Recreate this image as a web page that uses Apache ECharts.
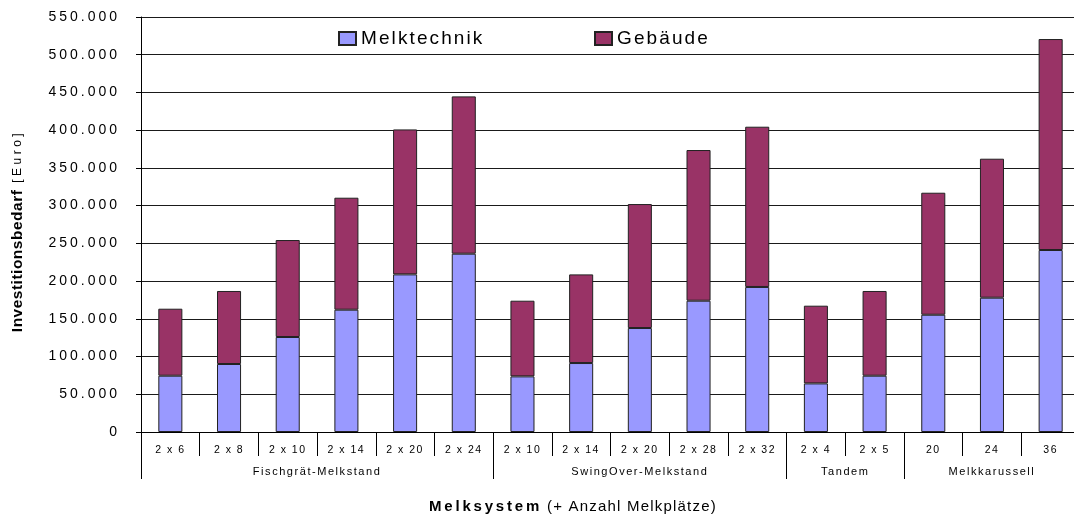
<!DOCTYPE html>
<html>
<head>
<meta charset="utf-8">
<script src="https://cdn.jsdelivr.net/npm/echarts@6/dist/echarts.min.js"></script>
<style>html,body{margin:0;padding:0;background:#fff}#c{width:1074px;height:515px}</style>
</head>
<body>
<div id="c"></div>
<script>
// ---- data ----
const categories = ['2 x 6','2 x 8','2 x 10','2 x 14','2 x 20','2 x 24','2 x 10','2 x 14','2 x 20','2 x 28','2 x 32','2 x 4','2 x 5','20','24','36'];
const groups = ['Fischgrät-Melkstand','SwingOver-Melkstand','Tandem','Melkkarussell'];
const groupSizes = [6, 5, 2, 3];
const melktechnik = [74600, 90100, 125900, 162100, 208900, 236300, 73700, 91400, 137800, 174000, 192200, 64400, 74600, 155400, 178000, 241200];
const gebaeude = [88800, 96800, 128500, 148400, 192100, 208500, 100300, 117500, 164300, 199700, 212400, 103000, 112300, 161700, 184200, 279600];
const yTicks = {min: 0, max: 550000, interval: 50000};

// ---- letter spacing emulation (text looks widely spaced in the original) ----
(function(){
  const spacing = {
    'n14': 3, 'n10.5': 1.5, 'n11': 1.55, 'n19': 2.1, 'b15': 2.8, 'n15': 1.2, 'b15.5': 0.5, 'n12': 3.5
  };
  const proto = CanvasRenderingContext2D.prototype;
  const d = Object.getOwnPropertyDescriptor(proto, 'font');
  if (!d || !('letterSpacing' in proto)) return;
  Object.defineProperty(proto, 'font', {
    configurable: true,
    get() { return d.get.call(this); },
    set(v) {
      d.set.call(this, v);
      const m = /([\d.]+)px/.exec(v);
      const key = (/bold|[6-9]00/.test(v) ? 'b' : 'n') + (m ? parseFloat(m[1]) : '');
      this.letterSpacing = (spacing[key] || 0) + 'px';
    }
  });
})();

const FONT = 'Liberation Sans';
const fmt = v => String(v).replace(/\B(?=(\d{3})+(?!\d))/g, '.');

// group boundaries and centres on a 0..N value scale
const bounds = [0];
groupSizes.forEach(s => bounds.push(bounds[bounds.length - 1] + s));
const centres = groups.map((g, i) => (bounds[i] + bounds[i + 1]) / 2);

const legendCommon = {padding: 0, top: 28, itemWidth: 17, itemHeight: 13, icon: 'rect',
  textStyle: {fontFamily: FONT, fontSize: 19, color: '#000'}};

const chart = echarts.init(document.getElementById('c'), null, {renderer: 'canvas'});
chart.setOption({
  animation: false,
  textStyle: {fontFamily: FONT, color: '#000'},
  grid: {left: 141, right: -6, top: 17, bottom: 83, containLabel: false, outerBoundsMode: 'none'},
  legend: [
    Object.assign({data: ['Melktechnik'], left: 338}, legendCommon),
    Object.assign({data: ['Gebäude'], left: 594}, legendCommon)
  ],
  title: {
    text: '{b|Melksystem} {n|(+ Anzahl Melkplätze)}',
    left: 424, top: 493,
    textStyle: {
      fontWeight: 'normal',
      rich: {
        b: {fontFamily: FONT, fontSize: 15, fontWeight: 'bold', color: '#000'},
        n: {fontFamily: FONT, fontSize: 15, fontWeight: 'normal', color: '#000'}
      }
    }
  },
  xAxis: [
    {
      type: 'category', data: categories, position: 'bottom',
      axisLine: {lineStyle: {color: '#000', width: 1}},
      axisTick: {show: true, interval: 0, length: 24, lineStyle: {color: '#000'}},
      axisLabel: {interval: 0, fontFamily: FONT, fontSize: 10.5, color: '#000', margin: 12},
      splitLine: {show: false}
    },
    {
      type: 'value', min: 0, max: categories.length, position: 'bottom',
      axisLine: {show: false},
      splitLine: {show: false},
      axisTick: {show: true, length: 47, customValues: bounds, lineStyle: {color: '#000'}},
      axisLabel: {
        show: true, customValues: centres, margin: 34,
        fontFamily: FONT, fontSize: 11, color: '#000',
        formatter: v => groups[centres.indexOf(v)] || ''
      }
    }
  ],
  yAxis: {
    type: 'value', min: yTicks.min, max: yTicks.max, interval: yTicks.interval,
    name: '{b|Investitionsbedarf} {n|[Euro]}',
    nameLocation: 'middle', nameGap: 115, nameRotate: 90,
    nameTextStyle: {
      padding: [0, 13, 0, 0],
      rich: {
        b: {fontFamily: FONT, fontSize: 15.5, fontWeight: 'bold', color: '#000'},
        n: {fontFamily: FONT, fontSize: 12, fontWeight: 'normal', color: '#000'}
      }
    },
    axisLine: {show: true, lineStyle: {color: '#000'}},
    axisTick: {show: true, length: 5, lineStyle: {color: '#000'}},
    axisLabel: {fontFamily: FONT, fontSize: 14, color: '#000', margin: 21, formatter: fmt},
    splitLine: {lineStyle: {color: '#1a1a1a', width: 1}}
  },
  series: [
    {name: 'Melktechnik', type: 'bar', stack: 'total', data: melktechnik, barWidth: '41%',
     itemStyle: {color: '#9999FF', borderColor: '#222', borderWidth: 1}},
    {name: 'Gebäude', type: 'bar', stack: 'total', data: gebaeude, barWidth: '41%',
     itemStyle: {color: '#993366', borderColor: '#222', borderWidth: 1}}
  ]
});
</script>
</body>
</html>
